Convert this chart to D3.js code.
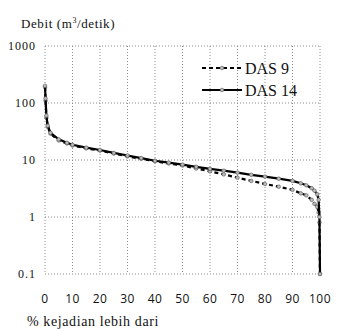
<!DOCTYPE html>
<html>
<head>
<meta charset="utf-8">
<script src="https://cdn.jsdelivr.net/npm/d3@7"></script>
<style>
  body { margin: 0; background: #fff; }
  svg text.serif { font-family: 'Liberation Serif', 'Times New Roman', serif !important; }
  svg text.sans { font-family: 'Open Sans', sans-serif !important; }
</style>
</head>
<body>
<div id="visual"></div>
<script>
// percent of time flow is exceeded
const percent = [0, 0.2, 0.5, 1, 2, 5, 8, 10, 15, 20, 25, 30, 35, 40, 45, 50, 55, 60, 65, 70, 75, 80, 85, 90, 93, 95, 97, 98, 99, 99.5, 99.8, 100];
const das9 = [190, 110, 55, 38, 29, 22, 19.5, 18, 16, 14.6, 13, 11.6, 10.5, 9.5, 8.7, 8, 7.1, 6.3, 5.6, 4.9, 4.3, 3.8, 3.4, 3, 2.6, 2.4, 2, 1.7, 1.5, 1.2, 0.8, 0.1];
const das14 = [200, 120, 60, 40, 30, 23, 20, 18.5, 16.5, 15, 13.3, 12, 10.8, 9.7, 9, 8.3, 7.6, 7, 6.5, 6, 5.5, 5.1, 4.7, 4.3, 3.9, 3.6, 3.2, 2.9, 2.5, 2, 1, 0.1];
const xTicks = [0, 10, 20, 30, 40, 50, 60, 70, 80, 90, 100];
const yTicks = [0.1, 1, 10, 100, 1000];
const seriesNames = ["DAS 9", "DAS 14"];

const width = 347, height = 331;
const margin = { top: 46, right: 27, bottom: 57, left: 45 };
const SERIF_STYLE = "font-family: 'Liberation Serif', 'Times New Roman', serif !important;";
const SANS_STYLE = "font-family: 'Open Sans', sans-serif !important;";

const svg = d3.select("#visual")
    .append("svg")
    .attr("width", width)
    .attr("height", height);

const x = d3.scaleLinear().domain([0, 100]).range([margin.left, width - margin.right]);
const y = d3.scaleLog().domain([0.1, 1000]).range([height - margin.bottom, margin.top]);

// grid
svg.append("g")
    .selectAll("line")
    .data(xTicks)
    .enter()
    .append("line")
    .attr("x1", d => x(d)).attr("x2", d => x(d))
    .attr("y1", y(1000)).attr("y2", y(0.1))
    .attr("stroke", "#8a8a8a")
    .attr("stroke-width", 1)
    .attr("stroke-dasharray", "1,2");

svg.append("g")
    .selectAll("line")
    .data(yTicks)
    .enter()
    .append("line")
    .attr("x1", x(0)).attr("x2", x(100))
    .attr("y1", d => y(d)).attr("y2", d => y(d))
    .attr("stroke", "#8a8a8a")
    .attr("stroke-width", 1)
    .attr("stroke-dasharray", "1,2");

// y tick labels
svg.append("g")
    .selectAll("text")
    .data(yTicks)
    .enter()
    .append("text")
    .attr("class", "serif")
    .attr("style", SERIF_STYLE + " font-size: 12px; letter-spacing: 1px;")
    .attr("x", 36)
    .attr("y", d => y(d) + 4)
    .attr("text-anchor", "end")
    .attr("fill", "#111")
    .text(d => d);

// x tick labels
svg.append("g")
    .selectAll("text")
    .data(xTicks)
    .enter()
    .append("text")
    .attr("class", "sans")
    .attr("style", SANS_STYLE + " font-size: 12px; letter-spacing: 0.5px;")
    .attr("x", d => x(d))
    .attr("y", 303)
    .attr("text-anchor", "middle")
    .attr("fill", "#111")
    .text(d => d);

// axis titles
const title = svg.append("text")
    .attr("class", "serif")
    .attr("style", SERIF_STYLE + " font-size: 13px; letter-spacing: 0.6px;")
    .attr("x", 21)
    .attr("y", 28)
    .attr("fill", "#111");
title.append("tspan").text("Debit (m");
title.append("tspan").attr("dy", -5).attr("font-size", 8).text("3");
title.append("tspan").attr("dy", 5).text("/detik)");

svg.append("text")
    .attr("class", "serif")
    .attr("style", SERIF_STYLE + " font-size: 14px; letter-spacing: 0.6px;")
    .attr("x", 27)
    .attr("y", 326)
    .attr("fill", "#111")
    .text("% kejadian lebih dari");

// series
const series = [
    { name: seriesNames[0], values: das9, dash: "4,3" },
    { name: seriesNames[1], values: das14, dash: null }
];

const line = d3.line()
    .x((d, i) => x(percent[i]))
    .y(d => y(d));

series.forEach(s => {
    svg.append("path")
        .datum(s.values)
        .attr("d", line)
        .attr("fill", "none")
        .attr("stroke", "#000")
        .attr("stroke-width", 2.2)
        .attr("stroke-dasharray", s.dash);

    svg.append("g")
        .selectAll("circle")
        .data(s.values)
        .enter()
        .append("circle")
        .attr("cx", (d, i) => x(percent[i]))
        .attr("cy", d => y(d))
        .attr("r", 1.8)
        .attr("fill", "#bbb")
        .attr("stroke", "#666")
        .attr("stroke-width", 0.7);
});

// legend
const legend = svg.append("g");
series.forEach((s, i) => {
    const ly = 68 + i * 22;
    legend.append("line")
        .attr("x1", 202).attr("x2", 242)
        .attr("y1", ly).attr("y2", ly)
        .attr("stroke", "#000")
        .attr("stroke-width", 2.2)
        .attr("stroke-dasharray", s.dash);
    legend.append("circle")
        .attr("cx", 222).attr("cy", ly)
        .attr("r", 1.8)
        .attr("fill", "#bbb")
        .attr("stroke", "#666")
        .attr("stroke-width", 0.7);
    legend.append("text")
        .attr("class", "serif")
        .attr("style", SERIF_STYLE + " font-size: 16px;")
        .attr("x", 245)
        .attr("y", ly + 6)
        .attr("fill", "#111")
        .text(s.name);
});
</script>
</body>
</html>
